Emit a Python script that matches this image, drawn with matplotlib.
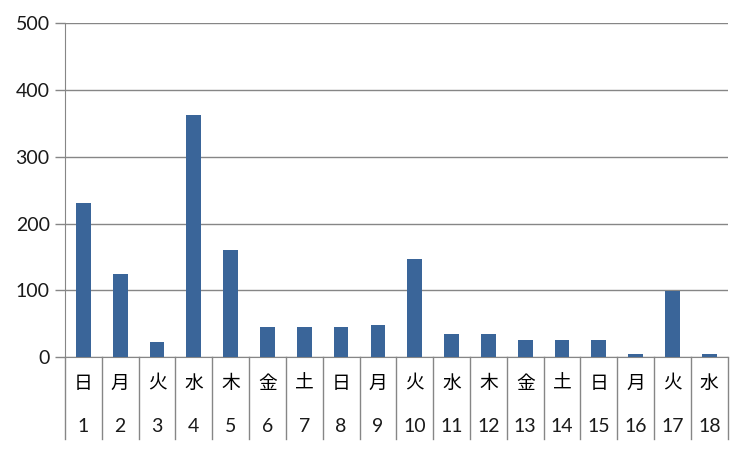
import matplotlib
matplotlib.use('Agg')
import matplotlib.pyplot as plt

# data
days = [str(d) for d in range(1, 19)]
weekdays = ['日', '月', '火', '水', '木', '金', '土', '日', '月', '火',
            '水', '木', '金', '土', '日', '月', '火', '水']
values = [230, 124, 22, 362, 160, 45, 45, 45, 48, 147,
          35, 35, 25, 25, 25, 4, 99, 4]
yticks = [0, 100, 200, 300, 400, 500]

bar_color = '#3A6599'
grid_color = '#868686'

fig = plt.figure(figsize=(7.5, 4.49), dpi=100)
W, H = 750, 449
left, right, top, bottom = 65, 727.7, 23.3, 357
ax = fig.add_axes([left / W, (H - bottom) / H, (right - left) / W, (bottom - top) / H])

x = list(range(len(values)))
ax.bar(x, values, width=0.4, color=bar_color, zorder=3)

ax.set_xlim(-0.5, len(values) - 0.5)
ax.set_ylim(0, 500)
ax.set_yticks(yticks)
ax.set_yticklabels([str(t) for t in yticks], family='Lato', fontsize=14, color='#1a1a1a')
ax.tick_params(axis='y', length=7, width=1, color=grid_color, pad=4)
ax.set_xticks([])
ax.yaxis.grid(True, color=grid_color, linewidth=1)
ax.set_axisbelow(True)

for s in ['top', 'right']:
    ax.spines[s].set_visible(False)
ax.spines['left'].set_color(grid_color)
ax.spines['bottom'].set_color(grid_color)

# category separators and two-level labels below axis
tr = ax.get_xaxis_transform()
ph = bottom - top
sep_bottom = -(439 - bottom) / ph
for i in range(len(values) + 1):
    ax.plot([i - 0.5, i - 0.5], [0, sep_bottom], transform=tr, color=grid_color,
            linewidth=1, clip_on=False)

for i in x:
    ax.text(i, -(383 - bottom) / ph, weekdays[i], transform=tr, ha='center', va='center',
            fontsize=13.5, family=['Noto Sans CJK JP'], color='#000000')
    ax.text(i, -(426 - bottom) / ph, days[i], transform=tr, ha='center', va='center',
            fontsize=14, family=['Lato'], color='#1a1a1a')

fig.savefig('out.png', dpi=100)
